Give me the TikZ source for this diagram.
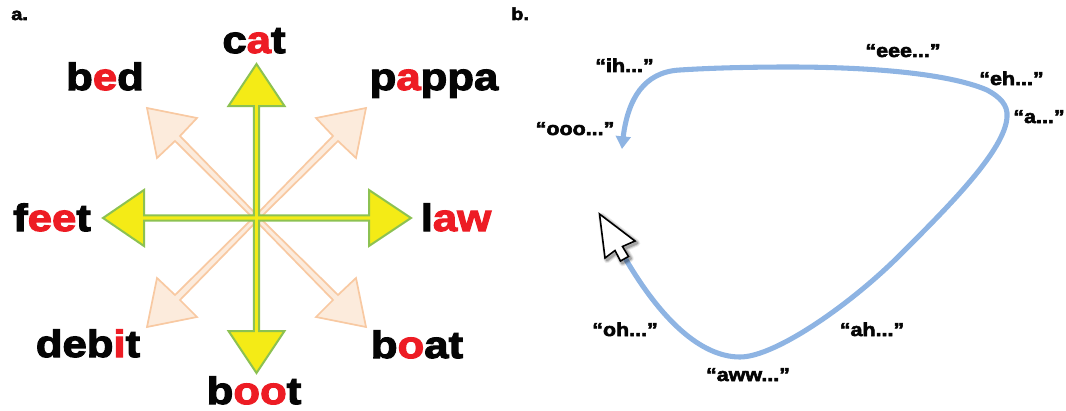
\documentclass[tikz,border=0pt]{standalone}
\usepackage{fontspec}
\setmainfont[BoldFont={Liberation Sans Bold},BoldFeatures={FakeBold=3,FakeStretch=1.15}]{Liberation Sans}
\usetikzlibrary{arrows.meta,bending}
\definecolor{wordred}{HTML}{ED1C24}
\definecolor{wordblack}{HTML}{050505}
\definecolor{yfill}{HTML}{F4EB16}
\definecolor{yedge}{HTML}{8CC152}
\definecolor{pfill}{HTML}{FCEBDC}
\definecolor{pedge}{HTML}{F8C9A2}
\definecolor{curveblue}{HTML}{8EB4E3}
\newcommand{\rd}[1]{\textcolor{wordred}{#1}}
\tikzset{
  word/.style={anchor=base,inner sep=0pt,text=wordblack,font=\fontsize{28.5}{30}\selectfont\bfseries},
  quoted/.style={anchor=base,inner sep=0pt,text=wordblack,font=\fontsize{14}{16}\selectfont\bfseries},
  panel/.style={anchor=base west,inner sep=0pt,text=wordblack,font=\fontsize{13}{15}\selectfont\bfseries},
  yarrow/.style={draw=yedge,fill=yfill,line width=1.5pt,line join=miter},
  parrow/.style={draw=pedge,fill=pfill,line width=1.3pt,line join=miter},
  vowelcurve/.style={draw=curveblue,line width=3.8pt,line cap=round,-{Triangle[width=11pt,length=9.5pt,flex]}},
}
\begin{document}
\begin{tikzpicture}[x=0.75pt,y=-0.75pt]
\useasboundingbox (0,0) rectangle (1066,410);
% panel labels
\node[panel] (pa) at (11,20) {a.};
\node[panel] (pb) at (511,20) {b.};
% peach diagonal arrows
\draw[parrow] (147,108)--(197,118)--(180,136)--(256.5,214.5)--(333,136)--(316,118)--(366,108)--(356,158)--(338,141)--(260,218)--(338,295)--(356,278)--(366,327)--(316,317)--(333,300)--(256.5,221.5)--(180,300)--(197,317)--(147,327)--(157,278)--(175,295)--(253,218)--(175,141)--(157,158)--cycle;
% yellow cross arrows
\draw[yarrow] (256.5,64)--(284.5,106)--(259.2,106)--(259.2,215.3)--(369,215.3)--(369,190)--(411,218)--(369,246)--(369,220.7)--(259.2,220.7)--(259.2,331)--(284.5,331)--(256.5,373)--(228.5,331)--(253.8,331)--(253.8,220.7)--(144,220.7)--(144,246)--(103,218)--(144,190)--(144,215.3)--(253.8,215.3)--(253.8,106)--(228.5,106)--cycle;
% words
\node[word] (cat) at (254,53) {c\rd{a}t};
\node[word] (bed) at (105,90) {b\rd{e}d};
\node[word] (pappa) at (434,90) {p\rd{a}ppa};
\node[word] (feet) at (52,231) {f\rd{ee}t};
\node[word] (law) at (456,231) {l\rd{aw}};
\node[word] (debit) at (88,357) {deb\rd{i}t};
\node[word] (boat) at (417,358) {b\rd{o}at};
\node[word] (boot) at (254,404) {b\rd{oo}t};
% curve
\coordinate (curvestart) at (625,258);
\coordinate (curvetip) at (622,149);
\draw[vowelcurve] (curvestart) .. controls (660,318) and (700,357) .. (740,357)
  .. controls (775,357) and (850,305) .. (900,255)
  .. controls (950,205) and (1005,150) .. (1007,117)
  .. controls (1008,105) and (1000,97) .. (987,90)
  .. controls (945,72) and (860,67) .. (789,67)
  .. controls (750,67) and (710,68) .. (680,70)
  .. controls (640,72) and (625,105) .. (curvetip);
% cursor shadow
\foreach \w/\o in {5/0.08,3.5/0.12,2/0.2}{
  \draw[black,opacity=\o,line width=\w pt,line join=round,xshift=1.5pt,yshift=-1.5pt]
    (599.5,214)--(635,241)--(622.5,246.5)--(628.5,256.5)--(620.5,261)--(615,250.5)--(605,258)--cycle;
}
% cursor
\draw[fill=white,draw=black,line width=1.2pt,line join=miter] (599.5,214)--(635,241)--(622.5,246.5)--(628.5,256.5)--(620.5,261)--(615,250.5)--(605,258)--cycle;
% quoted labels
\node[quoted] (eee) at (903,57) {“eee...”};
\node[quoted] (ih) at (624.5,72) {“ih...”};
\node[quoted] (ooo) at (575,135) {“ooo...”};
\node[quoted] (eh) at (1011.5,85) {“eh...”};
\node[quoted] (av) at (1039,123) {“a...”};
\node[quoted] (oh) at (625,336) {“oh...”};
\node[quoted] (aww) at (748,381) {“aww...”};
\node[quoted] (ah) at (872,336) {“ah...”};
\end{tikzpicture}
\end{document}
